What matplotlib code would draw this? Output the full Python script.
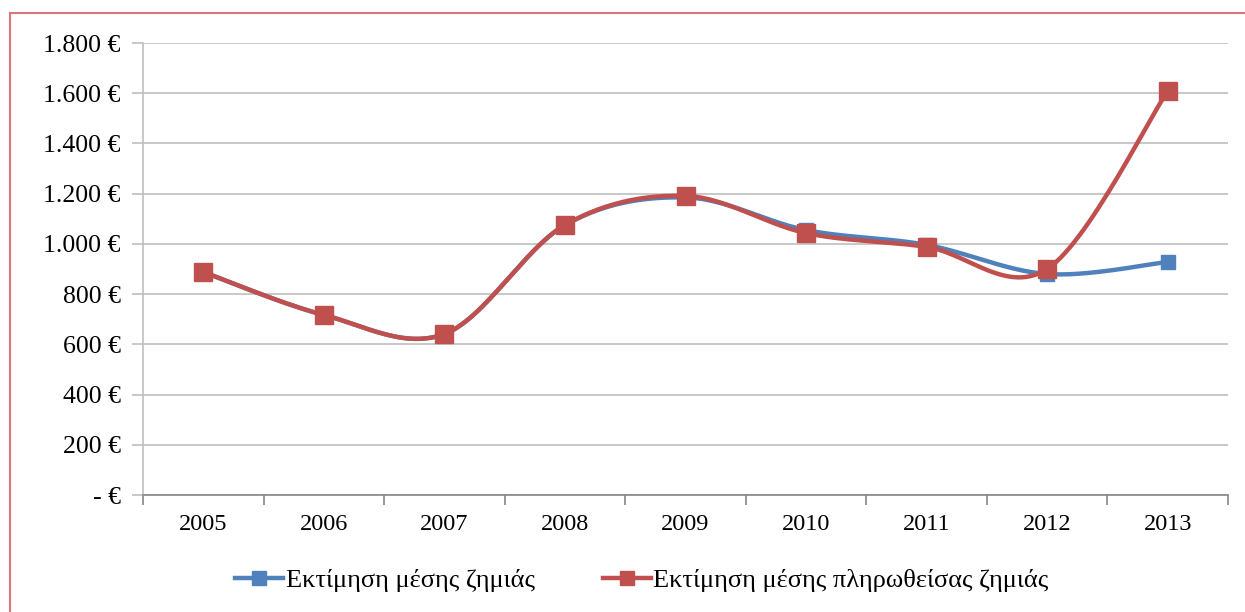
import numpy as np
import matplotlib
matplotlib.use("Agg")
import matplotlib.pyplot as plt
from matplotlib.patches import Rectangle
from matplotlib.ticker import FixedLocator, FuncFormatter

years = ["2005", "2006", "2007", "2008", "2009", "2010", "2011", "2012", "2013"]
avg_loss = [888, 717, 641, 1075, 1185, 1055, 996, 880, 928]
avg_paid_loss = [888, 717, 641, 1075, 1191, 1043, 988, 900, 1609]
labels = ["Εκτίμηση μέσης ζημιάς", "Εκτίμηση μέσης πληρωθείσας ζημιάς"]

plt.rcParams['font.family'] = ['Liberation Serif', 'DejaVu Serif']


def smooth(x, y, n=30):
    # catmull-rom style bezier, like excel's smoothed line
    x = np.asarray(x, float); y = np.asarray(y, float)
    px = np.concatenate([[x[0]], x, [x[-1]]])
    py = np.concatenate([[y[0]], y, [y[-1]]])
    xs, ys = [], []
    t = np.linspace(0, 1, n)
    for i in range(1, len(px) - 2):
        p0 = np.array([px[i], py[i]]); p3 = np.array([px[i + 1], py[i + 1]])
        c1 = p0 + (np.array([px[i + 1], py[i + 1]]) - np.array([px[i - 1], py[i - 1]])) / 6
        c2 = p3 - (np.array([px[i + 2], py[i + 2]]) - np.array([px[i], py[i]])) / 6
        b = ((1 - t) ** 3)[:, None] * p0 + (3 * (1 - t) ** 2 * t)[:, None] * c1 \
            + (3 * (1 - t) * t ** 2)[:, None] * c2 + (t ** 3)[:, None] * p3
        xs.extend(b[:, 0]); ys.extend(b[:, 1])
    return xs, ys


fig = plt.figure(figsize=(12.45, 6.12), dpi=100)
ax = fig.add_axes([143 / 1245, 1 - 495 / 612, (1228 - 143) / 1245, (495 - 43) / 612])

x = np.arange(len(years))
blue, red = "#4F81BD", "#C0504D"
sx, sy = smooth(x, avg_loss)
ax.plot(sx, sy, color=blue, lw=3.2, solid_capstyle='round', zorder=3)
ax.plot(x, avg_loss, 's', color=blue, ms=9.5, zorder=4)
sx, sy = smooth(x, avg_paid_loss)
ax.plot(sx, sy, color=red, lw=3.2, solid_capstyle='round', zorder=5)
ax.plot(x, avg_paid_loss, 's', color=red, ms=13, zorder=6)

ax.set_xlim(-0.5, len(years) - 0.5)
ax.set_ylim(0, 1800)
ax.set_yticks(np.arange(0, 1801, 200))


def euro(v, pos):
    if v == 0:
        return "- €"
    return f"{int(v):,} €".replace(",", ".")


ax.yaxis.set_major_formatter(FuncFormatter(euro))
ax.grid(axis='y', color='#BFBFBF', lw=1.2)
ax.set_axisbelow(True)
ax.xaxis.set_major_locator(FixedLocator(np.arange(-0.5, len(years), 1)))
ax.xaxis.set_minor_locator(FixedLocator(x))
ax.set_xticklabels([])
ax.set_xticklabels(years, minor=True)
ax.tick_params(axis='x', which='major', length=7, color='#868686', width=1.2)
ax.tick_params(axis='x', which='minor', length=0, pad=14, labelsize=17.5)
ax.tick_params(axis='y', length=8, color='#BFBFBF', width=1.2, labelsize=18.5, pad=8)
for s in ['top', 'right']:
    ax.spines[s].set_visible(False)
ax.spines['left'].set_color('#BFBFBF')
ax.spines['left'].set_linewidth(1.2)
ax.spines['bottom'].set_color('#868686')
ax.spines['bottom'].set_linewidth(1.2)

h1 = plt.Line2D([], [], color=blue, lw=3.2, marker='s', ms=9.5)
h2 = plt.Line2D([], [], color=red, lw=3.2, marker='s', ms=9.5)
fig.legend([h1, h2], labels, loc='center', bbox_to_anchor=(642 / 1245, 1 - 580 / 612),
           ncol=2, frameon=False, fontsize=19, handlelength=1.8, handletextpad=0.1,
           columnspacing=2.6)

fig.patches.append(Rectangle((10 / 1245, -0.01), 1.02, 1 - 13 / 612 + 0.01,
                             transform=fig.transFigure, fill=False,
                             edgecolor='#D9777A', lw=1.5))

fig.savefig("out.png", dpi=100)
